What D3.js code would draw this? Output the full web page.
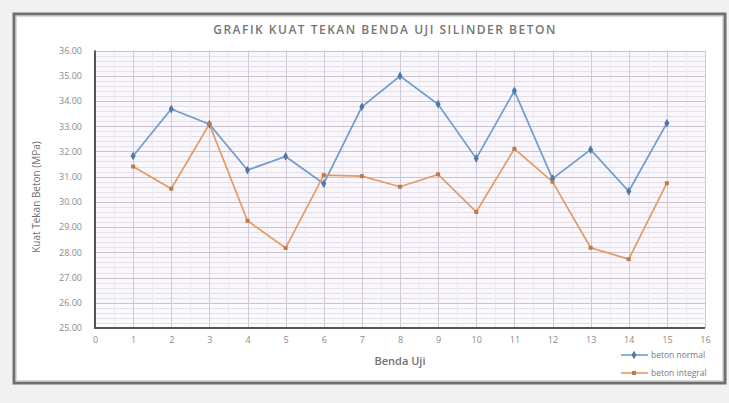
<!DOCTYPE html>
<html>
<head>
<meta charset="utf-8">
<script src="https://cdn.jsdelivr.net/npm/d3@7"></script>
<style>
html,body{margin:0;padding:0;background:#f1f1f1;}
svg{display:block;font-family:"Open Sans","DejaVu Sans",sans-serif;}
</style>
</head>
<body>
<svg id="chart" width="729" height="403"></svg>
<script>
const title = "GRAFIK KUAT TEKAN BENDA UJI SILINDER BETON";
const xLabel = "Benda Uji";
const yLabel = "Kuat Tekan Beton (MPa)";
const specimens = [1,2,3,4,5,6,7,8,9,10,11,12,13,14,15];
const betonNormal = [31.82,33.68,33.08,31.26,31.80,30.72,33.77,34.99,33.87,31.72,34.40,30.92,32.07,30.42,33.12];
const betonIntegral = [31.40,30.52,33.08,29.25,28.17,31.06,31.02,30.60,31.09,29.60,32.10,30.80,28.18,27.73,30.74];
const seriesNames = ["beton normal","beton integral"];
const xTicks = d3.range(0,17);
const yTicks = d3.range(25,37);

const svg = d3.select("#chart");
// outer frame
svg.append("rect").attr("x",14).attr("y",14).attr("width",711).attr("height",369)
  .attr("fill","#ffffff").attr("stroke","#707070").attr("stroke-width",3);
svg.append("rect").attr("x",16.5).attr("y",16.5).attr("width",706).attr("height",364)
  .attr("fill","none").attr("stroke","#dadada").attr("stroke-width",1);

const x = d3.scaleLinear().domain([0,16]).range([95,705]);
const y = d3.scaleLinear().domain([25,36]).range([328,50.5]);

const g = svg.append("g");
g.append("rect").attr("x",x(0)).attr("y",y(36)).attr("width",x(16)-x(0)).attr("height",y(25)-y(36))
  .attr("fill","#f9f7fb");
g.append("rect").attr("x",x(0)).attr("y",y(26)).attr("width",x(16)-x(0)).attr("height",y(25)-y(26))
  .attr("fill","#fbfbfb");

// minor horizontal grid
const minorY = d3.range(25,36.001,0.2).filter(v=>Math.abs(v-Math.round(v))>1e-6);
g.selectAll(".hminor").data(minorY).join("line")
  .attr("x1",x(0)).attr("x2",x(16)).attr("y1",d=>Math.round(y(d))+0.5).attr("y2",d=>Math.round(y(d))+0.5)
  .attr("stroke","#e4e0ea").attr("stroke-width",1);
// minor vertical grid
const minorX = d3.range(0.5,16,1);
g.selectAll(".vminor").data(minorX).join("line")
  .attr("y1",y(36)).attr("y2",y(25)).attr("x1",d=>Math.round(x(d))+0.5).attr("x2",d=>Math.round(x(d))+0.5)
  .attr("stroke","#eceaf0").attr("stroke-width",1);
// major grid
g.selectAll(".hmajor").data(yTicks).join("line")
  .attr("x1",x(0)).attr("x2",x(16)).attr("y1",d=>Math.round(y(d))+0.5).attr("y2",d=>Math.round(y(d))+0.5)
  .attr("stroke","#c9c3d2").attr("stroke-width",1);
g.selectAll(".vmajor").data(xTicks).join("line")
  .attr("y1",y(36)).attr("y2",y(25)).attr("x1",d=>Math.round(x(d))+0.5).attr("x2",d=>Math.round(x(d))+0.5)
  .attr("stroke","#cfcad6").attr("stroke-width",1);

// axes lines
g.append("line").attr("x1",x(0)).attr("x2",x(0)).attr("y1",y(36)).attr("y2",y(25)+1)
  .attr("stroke","#555").attr("stroke-width",2);
g.append("line").attr("x1",x(0)).attr("x2",x(16)).attr("y1",y(25)).attr("y2",y(25))
  .attr("stroke","#555").attr("stroke-width",2);

// axes via d3
const yAxis = d3.axisLeft(y).tickValues(yTicks).tickFormat(d3.format(".2f")).tickSize(0).tickPadding(13);
const ya = svg.append("g").attr("transform",`translate(${x(0)},0)`).call(yAxis);
ya.select(".domain").remove();
ya.selectAll("text").attr("fill","#8a8a8a").style("font-size","9px").style("font-family","'Open Sans',sans-serif");

const xAxis = d3.axisBottom(x).tickValues(xTicks).tickSize(0).tickPadding(9);
const xa = svg.append("g").attr("transform",`translate(0,${y(25)})`).call(xAxis);
xa.select(".domain").remove();
xa.selectAll("text").attr("fill","#8a8a8a").style("font-size","9px").style("font-family","'Open Sans',sans-serif");

// series
const colors = ["#6f9ccf","#e49a62"];
const markerCols = ["#4f78a8","#c07a48"];
const data = [betonNormal, betonIntegral];
const line = d3.line().x((d,i)=>x(specimens[i])).y(d=>y(d));
data.forEach((vals,k)=>{
  svg.append("path").datum(vals).attr("d",line).attr("fill","none")
    .attr("stroke",colors[k]).attr("stroke-width",1.7);
});
data.forEach((vals,k)=>{
  const sym = k===0 ? d3.symbolDiamond : d3.symbolSquare;
  svg.selectAll(".m"+k).data(vals).join("path")
    .attr("transform",(d,i)=>`translate(${x(specimens[i])},${y(d)})`)
    .attr("d",d3.symbol().type(sym).size(k===0?22:16))
    .attr("fill",markerCols[k]);
});

// title
svg.append("text").attr("x",385).attr("y",34).attr("text-anchor","middle")
  .attr("fill","#767676").style("font-size","12px").style("font-weight","600")
  .style("letter-spacing","1.5px").text(title);
// axis titles
svg.append("text").attr("x",400).attr("y",365).attr("text-anchor","middle")
  .attr("fill","#707070").style("font-size","11px").style("font-weight","600").text(xLabel);
svg.append("text").attr("transform","translate(40,197) rotate(-90)").attr("text-anchor","middle")
  .attr("fill","#707070").style("font-size","10px").text(yLabel);

// legend
seriesNames.forEach((name,k)=>{
  const ly = 355 + k*18;
  svg.append("line").attr("x1",621).attr("x2",648).attr("y1",ly).attr("y2",ly)
    .attr("stroke",colors[k]).attr("stroke-width",1.6);
  svg.append("path").attr("transform",`translate(634,${ly})`)
    .attr("d",d3.symbol().type(k===0?d3.symbolDiamond:d3.symbolSquare).size(k===0?22:16))
    .attr("fill",markerCols[k]);
  svg.append("text").attr("x",651).attr("y",ly+3).attr("fill","#7a7a7a")
    .style("font-size","8.5px").text(name);
});
</script>
</body>
</html>
